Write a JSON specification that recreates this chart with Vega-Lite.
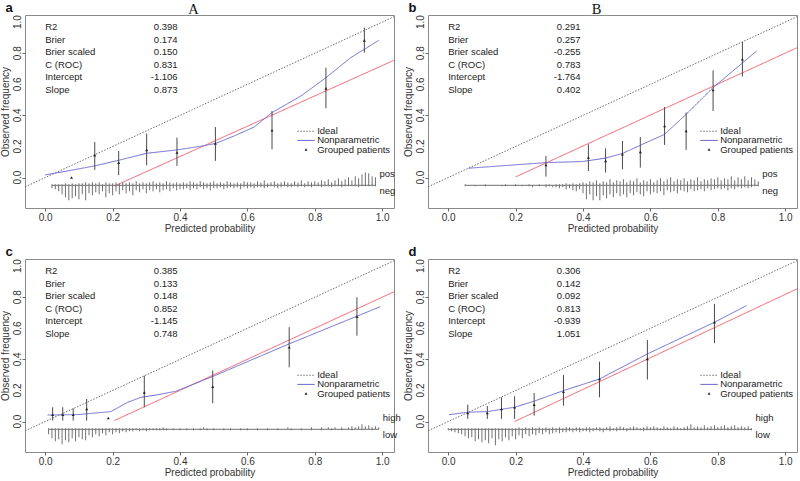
{
"$schema":"https://vega.github.io/schema/vega-lite/v6.json",
"padding":{"left":0,"top":0,"right":0,"bottom":0},
"background":"white",
"data":{"values":[
{"p":"a","k":"P","big":"A","v":["0.398","0.174","0.150","0.831","-1.106","0.873"]},
{"p":"b","k":"P","big":"B","v":["0.291","0.257","-0.255","0.783","-1.764","0.402"]},
{"p":"c","k":"P","big":"","v":["0.385","0.133","0.148","0.852","-1.145","0.748"]},
{"p":"d","k":"P","big":"","v":["0.306","0.142","0.092","0.813","-0.939","1.051"]},
{"p":"a","k":"T","t":0},{"p":"a","k":"T","t":0.2},{"p":"a","k":"T","t":0.4},{"p":"a","k":"T","t":0.6},{"p":"a","k":"T","t":0.8},{"p":"a","k":"T","t":1},
{"p":"b","k":"T","t":0},{"p":"b","k":"T","t":0.2},{"p":"b","k":"T","t":0.4},{"p":"b","k":"T","t":0.6},{"p":"b","k":"T","t":0.8},{"p":"b","k":"T","t":1},
{"p":"c","k":"T","t":0},{"p":"c","k":"T","t":0.2},{"p":"c","k":"T","t":0.4},{"p":"c","k":"T","t":0.6},{"p":"c","k":"T","t":0.8},{"p":"c","k":"T","t":1},
{"p":"d","k":"T","t":0},{"p":"d","k":"T","t":0.2},{"p":"d","k":"T","t":0.4},{"p":"d","k":"T","t":0.6},{"p":"d","k":"T","t":0.8},{"p":"d","k":"T","t":1},
{"p":"a","k":"L","s":"i","x":-0.1,"y":-0.1},{"p":"a","k":"L","s":"i","x":1.1,"y":1.1},
{"p":"b","k":"L","s":"i","x":-0.1,"y":-0.1},{"p":"b","k":"L","s":"i","x":1.1,"y":1.1},
{"p":"c","k":"L","s":"i","x":-0.1,"y":-0.1},{"p":"c","k":"L","s":"i","x":1.1,"y":1.1},
{"p":"d","k":"L","s":"i","x":-0.1,"y":-0.1},{"p":"d","k":"L","s":"i","x":1.1,"y":1.1},
{"p":"a","k":"L","s":"c","x":0.205,"y":-0.055},{"p":"a","k":"L","s":"c","x":1.1,"y":0.818},
{"p":"b","k":"L","s":"c","x":0.2,"y":0.004},{"p":"b","k":"L","s":"c","x":1.1,"y":0.9},
{"p":"c","k":"L","s":"c","x":0.205,"y":0.006},{"p":"c","k":"L","s":"c","x":1.1,"y":0.9},
{"p":"d","k":"L","s":"c","x":0.197,"y":0.0},{"p":"d","k":"L","s":"c","x":1.1,"y":0.92},
{"p":"a","k":"L","s":"n","x":0.0,"y":0.017},{"p":"a","k":"L","s":"n","x":0.078,"y":0.047},{"p":"a","k":"L","s":"n","x":0.147,"y":0.075},{"p":"a","k":"L","s":"n","x":0.218,"y":0.111},{"p":"a","k":"L","s":"n","x":0.301,"y":0.156},{"p":"a","k":"L","s":"n","x":0.391,"y":0.178},{"p":"a","k":"L","s":"n","x":0.46,"y":0.201},{"p":"a","k":"L","s":"n","x":0.505,"y":0.219},{"p":"a","k":"L","s":"n","x":0.561,"y":0.268},{"p":"a","k":"L","s":"n","x":0.62,"y":0.325},{"p":"a","k":"L","s":"n","x":0.673,"y":0.418},{"p":"a","k":"L","s":"n","x":0.759,"y":0.525},{"p":"a","k":"L","s":"n","x":0.833,"y":0.643},{"p":"a","k":"L","s":"n","x":0.907,"y":0.772},{"p":"a","k":"L","s":"n","x":0.99,"y":0.883},
{"p":"b","k":"L","s":"n","x":0.06,"y":0.06},{"p":"b","k":"L","s":"n","x":0.15,"y":0.074},{"p":"b","k":"L","s":"n","x":0.29,"y":0.096},{"p":"b","k":"L","s":"n","x":0.398,"y":0.103},{"p":"b","k":"L","s":"n","x":0.467,"y":0.125},{"p":"b","k":"L","s":"n","x":0.517,"y":0.155},{"p":"b","k":"L","s":"n","x":0.57,"y":0.208},{"p":"b","k":"L","s":"n","x":0.642,"y":0.278},{"p":"b","k":"L","s":"n","x":0.706,"y":0.407},{"p":"b","k":"L","s":"n","x":0.786,"y":0.579},{"p":"b","k":"L","s":"n","x":0.841,"y":0.679},{"p":"b","k":"L","s":"n","x":0.915,"y":0.814},
{"p":"c","k":"L","s":"n","x":0.007,"y":0.042},{"p":"c","k":"L","s":"n","x":0.1,"y":0.045},{"p":"c","k":"L","s":"n","x":0.195,"y":0.064},{"p":"c","k":"L","s":"n","x":0.245,"y":0.124},{"p":"c","k":"L","s":"n","x":0.284,"y":0.156},{"p":"c","k":"L","s":"n","x":0.33,"y":0.171},{"p":"c","k":"L","s":"n","x":0.388,"y":0.195},{"p":"c","k":"L","s":"n","x":0.497,"y":0.29},{"p":"c","k":"L","s":"n","x":0.724,"y":0.5},{"p":"c","k":"L","s":"n","x":0.994,"y":0.739},
{"p":"d","k":"L","s":"n","x":0.002,"y":0.044},{"p":"d","k":"L","s":"n","x":0.058,"y":0.06},{"p":"d","k":"L","s":"n","x":0.116,"y":0.064},{"p":"d","k":"L","s":"n","x":0.197,"y":0.092},{"p":"d","k":"L","s":"n","x":0.255,"y":0.131},{"p":"d","k":"L","s":"n","x":0.342,"y":0.199},{"p":"d","k":"L","s":"n","x":0.449,"y":0.274},{"p":"d","k":"L","s":"n","x":0.591,"y":0.435},{"p":"d","k":"L","s":"n","x":0.79,"y":0.639},{"p":"d","k":"L","s":"n","x":0.885,"y":0.746},
{"p":"a","k":"G","x":0.078,"y":0.0,"lo":0.0,"hi":0.0},{"p":"a","k":"G","x":0.147,"y":0.143,"lo":0.049,"hi":0.229},{"p":"a","k":"G","x":0.218,"y":0.096,"lo":0.015,"hi":0.171},{"p":"a","k":"G","x":0.301,"y":0.178,"lo":0.079,"hi":0.283},{"p":"a","k":"G","x":0.391,"y":0.161,"lo":0.075,"hi":0.257},{"p":"a","k":"G","x":0.505,"y":0.219,"lo":0.107,"hi":0.325},{"p":"a","k":"G","x":0.673,"y":0.304,"lo":0.182,"hi":0.428},{"p":"a","k":"G","x":0.833,"y":0.574,"lo":0.446,"hi":0.707},{"p":"a","k":"G","x":0.947,"y":0.883,"lo":0.804,"hi":0.965},
{"p":"b","k":"G","x":0.29,"y":0.081,"lo":0.006,"hi":0.139},{"p":"b","k":"G","x":0.416,"y":0.129,"lo":0.042,"hi":0.214},{"p":"b","k":"G","x":0.467,"y":0.107,"lo":0.032,"hi":0.188},{"p":"b","k":"G","x":0.517,"y":0.15,"lo":0.053,"hi":0.235},{"p":"b","k":"G","x":0.57,"y":0.165,"lo":0.064,"hi":0.261},{"p":"b","k":"G","x":0.642,"y":0.332,"lo":0.21,"hi":0.454},{"p":"b","k":"G","x":0.706,"y":0.3,"lo":0.178,"hi":0.418},{"p":"b","k":"G","x":0.786,"y":0.563,"lo":0.428,"hi":0.69},{"p":"b","k":"G","x":0.873,"y":0.761,"lo":0.65,"hi":0.872},
{"p":"c","k":"G","x":0.022,"y":0.044,"lo":0.006,"hi":0.092},{"p":"c","k":"G","x":0.052,"y":0.044,"lo":0.006,"hi":0.092},{"p":"c","k":"G","x":0.083,"y":0.044,"lo":0.006,"hi":0.085},{"p":"c","k":"G","x":0.123,"y":0.081,"lo":0.006,"hi":0.145},{"p":"c","k":"G","x":0.187,"y":0.023,"lo":0.023,"hi":0.023},{"p":"c","k":"G","x":0.294,"y":0.188,"lo":0.092,"hi":0.295},{"p":"c","k":"G","x":0.497,"y":0.225,"lo":0.118,"hi":0.328},{"p":"c","k":"G","x":0.724,"y":0.478,"lo":0.349,"hi":0.607},{"p":"c","k":"G","x":0.925,"y":0.675,"lo":0.553,"hi":0.8},
{"p":"d","k":"G","x":0.058,"y":0.055,"lo":0.017,"hi":0.109},{"p":"d","k":"G","x":0.116,"y":0.055,"lo":0.017,"hi":0.1},{"p":"d","k":"G","x":0.158,"y":0.081,"lo":0.017,"hi":0.156},{"p":"d","k":"G","x":0.197,"y":0.092,"lo":0.017,"hi":0.163},{"p":"d","k":"G","x":0.255,"y":0.109,"lo":0.038,"hi":0.184},{"p":"d","k":"G","x":0.342,"y":0.192,"lo":0.102,"hi":0.3},{"p":"d","k":"G","x":0.449,"y":0.274,"lo":0.156,"hi":0.385},{"p":"d","k":"G","x":0.591,"y":0.403,"lo":0.27,"hi":0.525},{"p":"d","k":"G","x":0.79,"y":0.639,"lo":0.504,"hi":0.757},
{"p":"a","k":"R","x":0.02,"u":1,"d":-3},{"p":"a","k":"R","x":0.03,"u":1,"d":-4},{"p":"a","k":"R","x":0.04,"u":1,"d":-6},{"p":"a","k":"R","x":0.05,"u":1,"d":-9},{"p":"a","k":"R","x":0.06,"u":2,"d":-12},{"p":"a","k":"R","x":0.07,"u":1,"d":-15},{"p":"a","k":"R","x":0.08,"u":2,"d":-13},{"p":"a","k":"R","x":0.09,"u":1,"d":-11},{"p":"a","k":"R","x":0.1,"u":2,"d":-14},{"p":"a","k":"R","x":0.11,"u":2,"d":-9},{"p":"a","k":"R","x":0.12,"u":3,"d":-15},{"p":"a","k":"R","x":0.13,"u":2,"d":-8},{"p":"a","k":"R","x":0.14,"u":3,"d":-10},{"p":"a","k":"R","x":0.15,"u":2,"d":-7},{"p":"a","k":"R","x":0.16,"u":3,"d":-9},{"p":"a","k":"R","x":0.17,"u":1,"d":-6},{"p":"a","k":"R","x":0.18,"u":3,"d":-12},{"p":"a","k":"R","x":0.19,"u":2,"d":-8},{"p":"a","k":"R","x":0.2,"u":2,"d":-10},{"p":"a","k":"R","x":0.21,"u":3,"d":-6},
{"p":"a","k":"R","x":0.22,"u":2,"d":-9},{"p":"a","k":"R","x":0.23,"u":3,"d":-5},{"p":"a","k":"R","x":0.24,"u":2,"d":-8},{"p":"a","k":"R","x":0.25,"u":3,"d":-6},{"p":"a","k":"R","x":0.26,"u":2,"d":-10},{"p":"a","k":"R","x":0.27,"u":4,"d":-5},{"p":"a","k":"R","x":0.28,"u":2,"d":-7},{"p":"a","k":"R","x":0.29,"u":3,"d":-4},{"p":"a","k":"R","x":0.3,"u":2,"d":-8},{"p":"a","k":"R","x":0.31,"u":3,"d":-5},{"p":"a","k":"R","x":0.32,"u":4,"d":-6},{"p":"a","k":"R","x":0.33,"u":2,"d":-4},{"p":"a","k":"R","x":0.34,"u":3,"d":-7},{"p":"a","k":"R","x":0.35,"u":2,"d":-5},{"p":"a","k":"R","x":0.36,"u":4,"d":-4},{"p":"a","k":"R","x":0.37,"u":3,"d":-6},{"p":"a","k":"R","x":0.38,"u":2,"d":-3},{"p":"a","k":"R","x":0.39,"u":3,"d":-5},{"p":"a","k":"R","x":0.4,"u":2,"d":-4},
{"p":"a","k":"R","x":0.41,"u":3,"d":-4},{"p":"a","k":"R","x":0.42,"u":2,"d":-3},{"p":"a","k":"R","x":0.43,"u":4,"d":-5},{"p":"a","k":"R","x":0.44,"u":3,"d":-3},{"p":"a","k":"R","x":0.45,"u":2,"d":-4},{"p":"a","k":"R","x":0.46,"u":4,"d":-2},{"p":"a","k":"R","x":0.47,"u":3,"d":-4},{"p":"a","k":"R","x":0.48,"u":2,"d":-3},{"p":"a","k":"R","x":0.49,"u":3,"d":-5},{"p":"a","k":"R","x":0.5,"u":4,"d":-3},{"p":"a","k":"R","x":0.51,"u":2,"d":-3},{"p":"a","k":"R","x":0.52,"u":3,"d":-2},{"p":"a","k":"R","x":0.53,"u":2,"d":-4},{"p":"a","k":"R","x":0.54,"u":4,"d":-3},{"p":"a","k":"R","x":0.55,"u":3,"d":-2},{"p":"a","k":"R","x":0.56,"u":2,"d":-3},{"p":"a","k":"R","x":0.57,"u":3,"d":-2},{"p":"a","k":"R","x":0.58,"u":2,"d":-4},{"p":"a","k":"R","x":0.59,"u":4,"d":-2},{"p":"a","k":"R","x":0.6,"u":3,"d":-3},
{"p":"a","k":"R","x":0.61,"u":3,"d":-2},{"p":"a","k":"R","x":0.62,"u":2,"d":-3},{"p":"a","k":"R","x":0.63,"u":4,"d":-2},{"p":"a","k":"R","x":0.64,"u":3,"d":-2},{"p":"a","k":"R","x":0.65,"u":5,"d":-3},{"p":"a","k":"R","x":0.66,"u":2,"d":-2},{"p":"a","k":"R","x":0.67,"u":3,"d":-1},{"p":"a","k":"R","x":0.68,"u":4,"d":-2},{"p":"a","k":"R","x":0.69,"u":2,"d":-3},{"p":"a","k":"R","x":0.7,"u":3,"d":-2},{"p":"a","k":"R","x":0.71,"u":4,"d":-1},{"p":"a","k":"R","x":0.72,"u":3,"d":-2},{"p":"a","k":"R","x":0.73,"u":2,"d":-2},{"p":"a","k":"R","x":0.74,"u":4,"d":-1},{"p":"a","k":"R","x":0.75,"u":3,"d":-2},{"p":"a","k":"R","x":0.76,"u":5,"d":-1},{"p":"a","k":"R","x":0.77,"u":2,"d":-2},{"p":"a","k":"R","x":0.78,"u":4,"d":-1},{"p":"a","k":"R","x":0.79,"u":3,"d":-2},{"p":"a","k":"R","x":0.8,"u":4,"d":-1},
{"p":"a","k":"R","x":0.81,"u":3,"d":-1},{"p":"a","k":"R","x":0.82,"u":5,"d":-2},{"p":"a","k":"R","x":0.83,"u":4,"d":-1},{"p":"a","k":"R","x":0.84,"u":6,"d":-1},{"p":"a","k":"R","x":0.85,"u":3,"d":-2},{"p":"a","k":"R","x":0.86,"u":5,"d":-1},{"p":"a","k":"R","x":0.87,"u":7,"d":-1},{"p":"a","k":"R","x":0.88,"u":4,"d":-2},{"p":"a","k":"R","x":0.89,"u":6,"d":-1},{"p":"a","k":"R","x":0.9,"u":8,"d":-1},{"p":"a","k":"R","x":0.91,"u":5,"d":-1},{"p":"a","k":"R","x":0.92,"u":9,"d":-1},{"p":"a","k":"R","x":0.93,"u":7,"d":-2},{"p":"a","k":"R","x":0.94,"u":11,"d":-1},{"p":"a","k":"R","x":0.95,"u":13,"d":-1},{"p":"a","k":"R","x":0.96,"u":12,"d":-1},{"p":"a","k":"R","x":0.97,"u":9,"d":-1},{"p":"a","k":"R","x":0.98,"u":8,"d":-1},
{"p":"b","k":"R","x":0.05,"u":1,"d":-1},{"p":"b","k":"R","x":0.08,"u":0,"d":-1},{"p":"b","k":"R","x":0.11,"u":1,"d":-1},{"p":"b","k":"R","x":0.16,"u":0,"d":-1},{"p":"b","k":"R","x":0.17,"u":1,"d":-1},{"p":"b","k":"R","x":0.2,"u":1,"d":-1},{"p":"b","k":"R","x":0.22,"u":0,"d":-1},{"p":"b","k":"R","x":0.24,"u":1,"d":-1},{"p":"b","k":"R","x":0.25,"u":0,"d":-2},{"p":"b","k":"R","x":0.27,"u":1,"d":-1},{"p":"b","k":"R","x":0.29,"u":1,"d":-2},{"p":"b","k":"R","x":0.3,"u":1,"d":-1},{"p":"b","k":"R","x":0.31,"u":0,"d":-2},{"p":"b","k":"R","x":0.32,"u":1,"d":-2},{"p":"b","k":"R","x":0.33,"u":1,"d":-3},{"p":"b","k":"R","x":0.34,"u":1,"d":-2},{"p":"b","k":"R","x":0.35,"u":2,"d":-4},{"p":"b","k":"R","x":0.36,"u":1,"d":-3},{"p":"b","k":"R","x":0.37,"u":2,"d":-5},{"p":"b","k":"R","x":0.38,"u":1,"d":-6},{"p":"b","k":"R","x":0.39,"u":2,"d":-4},{"p":"b","k":"R","x":0.4,"u":3,"d":-8},
{"p":"b","k":"R","x":0.41,"u":2,"d":-14},{"p":"b","k":"R","x":0.42,"u":4,"d":-9},{"p":"b","k":"R","x":0.43,"u":3,"d":-15},{"p":"b","k":"R","x":0.44,"u":5,"d":-11},{"p":"b","k":"R","x":0.45,"u":2,"d":-15},{"p":"b","k":"R","x":0.46,"u":4,"d":-10},{"p":"b","k":"R","x":0.47,"u":3,"d":-13},{"p":"b","k":"R","x":0.48,"u":6,"d":-9},{"p":"b","k":"R","x":0.49,"u":3,"d":-12},{"p":"b","k":"R","x":0.5,"u":5,"d":-8},{"p":"b","k":"R","x":0.51,"u":4,"d":-11},{"p":"b","k":"R","x":0.52,"u":6,"d":-9},{"p":"b","k":"R","x":0.53,"u":3,"d":-12},{"p":"b","k":"R","x":0.54,"u":5,"d":-8},{"p":"b","k":"R","x":0.55,"u":4,"d":-10},{"p":"b","k":"R","x":0.56,"u":7,"d":-7},{"p":"b","k":"R","x":0.57,"u":3,"d":-9},{"p":"b","k":"R","x":0.58,"u":5,"d":-11},{"p":"b","k":"R","x":0.59,"u":4,"d":-6},{"p":"b","k":"R","x":0.6,"u":6,"d":-9},
{"p":"b","k":"R","x":0.61,"u":3,"d":-7},{"p":"b","k":"R","x":0.62,"u":5,"d":-8},{"p":"b","k":"R","x":0.63,"u":7,"d":-6},{"p":"b","k":"R","x":0.64,"u":4,"d":-10},{"p":"b","k":"R","x":0.65,"u":6,"d":-5},{"p":"b","k":"R","x":0.66,"u":8,"d":-7},{"p":"b","k":"R","x":0.67,"u":4,"d":-6},{"p":"b","k":"R","x":0.68,"u":6,"d":-8},{"p":"b","k":"R","x":0.69,"u":5,"d":-5},{"p":"b","k":"R","x":0.7,"u":7,"d":-6},{"p":"b","k":"R","x":0.71,"u":4,"d":-7},{"p":"b","k":"R","x":0.72,"u":6,"d":-4},{"p":"b","k":"R","x":0.73,"u":5,"d":-6},{"p":"b","k":"R","x":0.74,"u":8,"d":-5},{"p":"b","k":"R","x":0.75,"u":4,"d":-4},{"p":"b","k":"R","x":0.76,"u":6,"d":-6},{"p":"b","k":"R","x":0.77,"u":5,"d":-3},{"p":"b","k":"R","x":0.78,"u":7,"d":-5},{"p":"b","k":"R","x":0.79,"u":6,"d":-4},{"p":"b","k":"R","x":0.8,"u":8,"d":-3},
{"p":"b","k":"R","x":0.81,"u":5,"d":-4},{"p":"b","k":"R","x":0.82,"u":7,"d":-3},{"p":"b","k":"R","x":0.83,"u":6,"d":-5},{"p":"b","k":"R","x":0.84,"u":9,"d":-3},{"p":"b","k":"R","x":0.85,"u":5,"d":-4},{"p":"b","k":"R","x":0.86,"u":8,"d":-2},{"p":"b","k":"R","x":0.87,"u":6,"d":-3},{"p":"b","k":"R","x":0.88,"u":9,"d":-2},{"p":"b","k":"R","x":0.89,"u":5,"d":-3},{"p":"b","k":"R","x":0.9,"u":8,"d":-2},{"p":"b","k":"R","x":0.91,"u":6,"d":-1},{"p":"b","k":"R","x":0.92,"u":4,"d":-1},
{"p":"c","k":"R","x":0.01,"u":1,"d":-5},{"p":"c","k":"R","x":0.02,"u":1,"d":-9},{"p":"c","k":"R","x":0.03,"u":1,"d":-12},{"p":"c","k":"R","x":0.04,"u":1,"d":-10},{"p":"c","k":"R","x":0.05,"u":1,"d":-15},{"p":"c","k":"R","x":0.06,"u":1,"d":-11},{"p":"c","k":"R","x":0.07,"u":1,"d":-13},{"p":"c","k":"R","x":0.08,"u":1,"d":-9},{"p":"c","k":"R","x":0.09,"u":1,"d":-12},{"p":"c","k":"R","x":0.1,"u":1,"d":-8},{"p":"c","k":"R","x":0.11,"u":1,"d":-10},{"p":"c","k":"R","x":0.12,"u":1,"d":-11},{"p":"c","k":"R","x":0.13,"u":1,"d":-6},{"p":"c","k":"R","x":0.14,"u":1,"d":-8},{"p":"c","k":"R","x":0.15,"u":1,"d":-5},{"p":"c","k":"R","x":0.16,"u":1,"d":-7},{"p":"c","k":"R","x":0.17,"u":1,"d":-4},{"p":"c","k":"R","x":0.18,"u":1,"d":-6},{"p":"c","k":"R","x":0.19,"u":1,"d":-3},{"p":"c","k":"R","x":0.2,"u":1,"d":-5},
{"p":"c","k":"R","x":0.21,"u":1,"d":-3},{"p":"c","k":"R","x":0.22,"u":1,"d":-4},{"p":"c","k":"R","x":0.23,"u":1,"d":-2},{"p":"c","k":"R","x":0.24,"u":1,"d":-3},{"p":"c","k":"R","x":0.25,"u":1,"d":-2},{"p":"c","k":"R","x":0.26,"u":1,"d":-2},{"p":"c","k":"R","x":0.27,"u":1,"d":-1},{"p":"c","k":"R","x":0.28,"u":1,"d":-2},{"p":"c","k":"R","x":0.29,"u":1,"d":-1},{"p":"c","k":"R","x":0.3,"u":1,"d":-2},{"p":"c","k":"R","x":0.31,"u":1,"d":-1},{"p":"c","k":"R","x":0.32,"u":1,"d":-1},{"p":"c","k":"R","x":0.33,"u":1,"d":-1},{"p":"c","k":"R","x":0.34,"u":1,"d":-1},{"p":"c","k":"R","x":0.35,"u":2,"d":-1},
{"p":"c","k":"R","x":0.36,"u":1,"d":-1},{"p":"c","k":"R","x":0.38,"u":1,"d":-1},{"p":"c","k":"R","x":0.4,"u":1,"d":-1},{"p":"c","k":"R","x":0.42,"u":1,"d":-1},{"p":"c","k":"R","x":0.44,"u":1,"d":-1},{"p":"c","k":"R","x":0.46,"u":1,"d":-1},{"p":"c","k":"R","x":0.47,"u":2,"d":0},{"p":"c","k":"R","x":0.48,"u":1,"d":-1},{"p":"c","k":"R","x":0.5,"u":1,"d":-1},{"p":"c","k":"R","x":0.53,"u":1,"d":-1},{"p":"c","k":"R","x":0.55,"u":1,"d":-1},{"p":"c","k":"R","x":0.58,"u":1,"d":-1},{"p":"c","k":"R","x":0.6,"u":1,"d":-1},{"p":"c","k":"R","x":0.63,"u":1,"d":-1},{"p":"c","k":"R","x":0.66,"u":1,"d":-1},{"p":"c","k":"R","x":0.69,"u":1,"d":-1},{"p":"c","k":"R","x":0.72,"u":2,"d":0},{"p":"c","k":"R","x":0.73,"u":1,"d":-1},{"p":"c","k":"R","x":0.76,"u":1,"d":-1},{"p":"c","k":"R","x":0.79,"u":2,"d":-1},{"p":"c","k":"R","x":0.82,"u":2,"d":-1},{"p":"c","k":"R","x":0.84,"u":2,"d":0},{"p":"c","k":"R","x":0.85,"u":1,"d":-1},{"p":"c","k":"R","x":0.86,"u":2,"d":0},{"p":"c","k":"R","x":0.88,"u":2,"d":-1},{"p":"c","k":"R","x":0.9,"u":2,"d":0},{"p":"c","k":"R","x":0.91,"u":3,"d":-1},{"p":"c","k":"R","x":0.92,"u":2,"d":0},{"p":"c","k":"R","x":0.93,"u":3,"d":0},{"p":"c","k":"R","x":0.94,"u":5,"d":-1},{"p":"c","k":"R","x":0.95,"u":3,"d":0},{"p":"c","k":"R","x":0.96,"u":4,"d":0},{"p":"c","k":"R","x":0.97,"u":2,"d":-1},{"p":"c","k":"R","x":0.98,"u":3,"d":0},{"p":"c","k":"R","x":0.99,"u":2,"d":0},
{"p":"d","k":"R","x":0.0,"u":1,"d":-1},{"p":"d","k":"R","x":0.01,"u":1,"d":-2},{"p":"d","k":"R","x":0.02,"u":1,"d":-3},{"p":"d","k":"R","x":0.03,"u":1,"d":-4},{"p":"d","k":"R","x":0.04,"u":1,"d":-5},{"p":"d","k":"R","x":0.05,"u":1,"d":-7},{"p":"d","k":"R","x":0.06,"u":1,"d":-9},{"p":"d","k":"R","x":0.07,"u":1,"d":-8},{"p":"d","k":"R","x":0.08,"u":1,"d":-12},{"p":"d","k":"R","x":0.09,"u":1,"d":-10},{"p":"d","k":"R","x":0.1,"u":1,"d":-13},{"p":"d","k":"R","x":0.11,"u":1,"d":-11},{"p":"d","k":"R","x":0.12,"u":1,"d":-14},{"p":"d","k":"R","x":0.13,"u":1,"d":-9},{"p":"d","k":"R","x":0.14,"u":1,"d":-16},{"p":"d","k":"R","x":0.15,"u":1,"d":-10},{"p":"d","k":"R","x":0.16,"u":1,"d":-12},{"p":"d","k":"R","x":0.17,"u":1,"d":-8},{"p":"d","k":"R","x":0.18,"u":1,"d":-11},{"p":"d","k":"R","x":0.19,"u":1,"d":-7},{"p":"d","k":"R","x":0.2,"u":1,"d":-10},
{"p":"d","k":"R","x":0.21,"u":2,"d":-6},{"p":"d","k":"R","x":0.22,"u":1,"d":-9},{"p":"d","k":"R","x":0.23,"u":2,"d":-5},{"p":"d","k":"R","x":0.24,"u":1,"d":-7},{"p":"d","k":"R","x":0.25,"u":2,"d":-5},{"p":"d","k":"R","x":0.26,"u":1,"d":-6},{"p":"d","k":"R","x":0.27,"u":2,"d":-4},{"p":"d","k":"R","x":0.28,"u":1,"d":-5},{"p":"d","k":"R","x":0.29,"u":2,"d":-3},{"p":"d","k":"R","x":0.3,"u":1,"d":-5},{"p":"d","k":"R","x":0.31,"u":2,"d":-4},{"p":"d","k":"R","x":0.32,"u":1,"d":-3},{"p":"d","k":"R","x":0.33,"u":2,"d":-4},{"p":"d","k":"R","x":0.34,"u":1,"d":-3},{"p":"d","k":"R","x":0.35,"u":2,"d":-3},{"p":"d","k":"R","x":0.36,"u":2,"d":-2},{"p":"d","k":"R","x":0.37,"u":1,"d":-3},{"p":"d","k":"R","x":0.38,"u":2,"d":-2},{"p":"d","k":"R","x":0.39,"u":2,"d":-3},{"p":"d","k":"R","x":0.4,"u":1,"d":-2},
{"p":"d","k":"R","x":0.41,"u":2,"d":-2},{"p":"d","k":"R","x":0.42,"u":2,"d":-3},{"p":"d","k":"R","x":0.43,"u":1,"d":-2},{"p":"d","k":"R","x":0.44,"u":2,"d":-1},{"p":"d","k":"R","x":0.45,"u":2,"d":-2},{"p":"d","k":"R","x":0.46,"u":1,"d":-3},{"p":"d","k":"R","x":0.47,"u":2,"d":-1},{"p":"d","k":"R","x":0.48,"u":3,"d":-2},{"p":"d","k":"R","x":0.49,"u":1,"d":-1},{"p":"d","k":"R","x":0.5,"u":2,"d":-2},{"p":"d","k":"R","x":0.51,"u":3,"d":-1},{"p":"d","k":"R","x":0.52,"u":2,"d":-1},{"p":"d","k":"R","x":0.53,"u":1,"d":-2},{"p":"d","k":"R","x":0.54,"u":2,"d":-1},{"p":"d","k":"R","x":0.55,"u":3,"d":-1},{"p":"d","k":"R","x":0.56,"u":2,"d":-1},{"p":"d","k":"R","x":0.57,"u":1,"d":-1},{"p":"d","k":"R","x":0.58,"u":2,"d":-2},{"p":"d","k":"R","x":0.59,"u":3,"d":-1},{"p":"d","k":"R","x":0.6,"u":2,"d":-1},
{"p":"d","k":"R","x":0.61,"u":3,"d":-1},{"p":"d","k":"R","x":0.62,"u":2,"d":-1},{"p":"d","k":"R","x":0.63,"u":1,"d":-1},{"p":"d","k":"R","x":0.64,"u":3,"d":-1},{"p":"d","k":"R","x":0.65,"u":2,"d":-1},{"p":"d","k":"R","x":0.66,"u":1,"d":-1},{"p":"d","k":"R","x":0.67,"u":3,"d":-1},{"p":"d","k":"R","x":0.68,"u":2,"d":-1},{"p":"d","k":"R","x":0.69,"u":1,"d":-1},{"p":"d","k":"R","x":0.7,"u":2,"d":-1},{"p":"d","k":"R","x":0.71,"u":3,"d":-1},{"p":"d","k":"R","x":0.72,"u":5,"d":-1},{"p":"d","k":"R","x":0.73,"u":2,"d":-1},{"p":"d","k":"R","x":0.74,"u":3,"d":-1},{"p":"d","k":"R","x":0.75,"u":2,"d":-1},{"p":"d","k":"R","x":0.76,"u":4,"d":-1},{"p":"d","k":"R","x":0.77,"u":2,"d":-1},{"p":"d","k":"R","x":0.78,"u":3,"d":-1},{"p":"d","k":"R","x":0.79,"u":4,"d":-1},{"p":"d","k":"R","x":0.8,"u":2,"d":-1},{"p":"d","k":"R","x":0.81,"u":3,"d":-1},{"p":"d","k":"R","x":0.82,"u":4,"d":-1},{"p":"d","k":"R","x":0.83,"u":2,"d":-1},{"p":"d","k":"R","x":0.84,"u":3,"d":-1},{"p":"d","k":"R","x":0.85,"u":4,"d":-1},{"p":"d","k":"R","x":0.86,"u":2,"d":-1},{"p":"d","k":"R","x":0.87,"u":3,"d":-1},{"p":"d","k":"R","x":0.88,"u":2,"d":-1},{"p":"d","k":"R","x":0.89,"u":3,"d":-1},{"p":"d","k":"R","x":0.9,"u":1,"d":-1}
]},
"facet":{"field":"p","type":"nominal","header":{"title":null,"labelExpr":"''","labelPadding":0,"labelFontSize":1}},
"columns":2,
"spacing":{"row":51,"column":34},
"bounds":"flush",
"resolve":{"axis":{"x":"independent","y":"independent"}},
"spec":{
"width":369,"height":193,
"resolve":{"scale":{"y":"independent"}},
"layer":[
{"layer":[
{"transform":[{"filter":"datum.k=='L'"}],
 "mark":{"type":"line","clip":true,"strokeWidth":1},
 "encoding":{
  "x":{"field":"x","type":"quantitative","title":"Predicted probability","scale":{"domain":[-0.06,1.035],"nice":false,"zero":false},"axis":{"values":[0,0.2,0.4,0.6,0.8,1],"format":".1f","labelOverlap":false}},
  "y":{"field":"y","type":"quantitative","title":"Observed frequency","scale":{"domain":[-0.196,1.046],"nice":false,"zero":false},"axis":{"values":[0,0.2,0.4,0.6,0.8,1],"labels":false,"ticks":true,"titlePadding":11}},
  "color":{"field":"s","type":"nominal","scale":{"domain":["i","n","c"],"range":["#6e6e6e","#6a6ad2","#f25f6c"]},"legend":null},
  "strokeDash":{"field":"s","type":"nominal","scale":{"domain":["i","n","c"],"range":[[1.5,1.5],[1,0],[1,0]]},"legend":null}}},
{"transform":[{"filter":"datum.k=='T'"}],
 "mark":{"type":"text","angle":270,"align":"center","baseline":"alphabetic","dy":-4,"fontSize":10,"color":"#333"},
 "encoding":{"x":{"datum":-0.06,"scale":{"domain":[-0.06,1.035],"nice":false,"zero":false}},"y":{"field":"t","type":"quantitative","title":"Observed frequency","scale":{"domain":[-0.196,1.046],"nice":false,"zero":false}},"text":{"field":"t","type":"quantitative","format":".1f"}}},
{"transform":[{"filter":"datum.k=='G'"}],
 "mark":{"type":"rule","color":"#4a4a4a","strokeWidth":1},
 "encoding":{"x":{"field":"x","type":"quantitative","title":"Predicted probability"},"y":{"field":"lo","type":"quantitative","title":"Observed frequency"},"y2":{"field":"hi"}}},
{"transform":[{"filter":"datum.k=='G'"}],
 "mark":{"type":"point","shape":"triangle-up","filled":true,"size":9,"color":"#222","opacity":1},
 "encoding":{"x":{"field":"x","type":"quantitative","title":"Predicted probability"},"y":{"field":"y","type":"quantitative","title":"Observed frequency"}}},
{"transform":[{"filter":"datum.k=='P'"}],
 "mark":{"type":"text","align":"left","baseline":"middle","lineHeight":12.55,"text":["R2","Brier","Brier scaled","C (ROC)","Intercept","Slope"]},
 "encoding":{"x":{"datum":0,"scale":{"domain":[-0.06,1.035],"nice":false,"zero":false}},"y":{"datum":0.967,"scale":{"domain":[-0.196,1.046],"nice":false,"zero":false}}}},
{"transform":[{"filter":"datum.k=='P'"}],
 "mark":{"type":"text","align":"right","baseline":"middle","lineHeight":12.55},
 "encoding":{"x":{"datum":0.393},"y":{"datum":0.967},"text":{"field":"v"}}},
{"transform":[{"filter":"datum.k=='P'"}],
 "mark":{"type":"text","align":"left","baseline":"middle","lineHeight":9.2,"text":["Ideal","Nonparametric","Grouped patients"]},
 "encoding":{"x":{"datum":0.807},"y":{"datum":0.298}}},
{"transform":[{"filter":"datum.k=='P'"}],
 "mark":{"type":"rule","color":"#6e6e6e","strokeDash":[1.5,1.5],"strokeWidth":1},
 "encoding":{"x":{"datum":0.748},"x2":{"datum":0.8},"y":{"datum":0.298}}},
{"transform":[{"filter":"datum.k=='P'"}],
 "mark":{"type":"rule","color":"#6a6ad2","strokeWidth":1},
 "encoding":{"x":{"datum":0.748},"x2":{"datum":0.8},"y":{"datum":0.239}}},
{"transform":[{"filter":"datum.k=='P'"}],
 "mark":{"type":"point","shape":"triangle-up","filled":true,"size":9,"color":"#222","opacity":1},
 "encoding":{"x":{"datum":0.774},"y":{"datum":0.18}}},
{"transform":[{"filter":"datum.k=='P'"}],
 "mark":{"type":"text","align":"center","baseline":"alphabetic","font":"Liberation Serif","fontSize":14.5,"dy":-1,"color":"#111"},
 "encoding":{"x":{"datum":0.44},"y":{"datum":1.046},"text":{"field":"big"}}},
{"transform":[{"filter":"datum.k=='P'"}],
 "mark":{"type":"text","align":"left","baseline":"alphabetic","fontSize":13,"fontWeight":"bold","color":"#111"},
 "encoding":{"x":{"datum":-0.118},"y":{"datum":1.068},"text":{"field":"p"}}}
]},
{"layer":[
{"transform":[{"filter":"datum.k=='R'"}],
 "mark":{"type":"rule","color":"#707070","strokeWidth":1},
 "encoding":{"x":{"field":"x","type":"quantitative","title":"Predicted probability"},"y":{"field":"u","type":"quantitative","scale":{"domain":[-22.7,170.3],"nice":false,"zero":false},"axis":null},"y2":{"field":"d"}}},
{"transform":[{"filter":"datum.k=='R'"}],
 "mark":{"type":"line","color":"#707070","strokeWidth":1},
 "encoding":{"x":{"field":"x","type":"quantitative","title":"Predicted probability"},"y":{"datum":0}}},
{"transform":[{"filter":"datum.k=='R'"},{"aggregate":[{"op":"max","field":"x","as":"mx"}],"groupby":["p"]}],
 "mark":{"type":"text","align":"left","baseline":"middle","dx":4,"fontSize":9.5},
 "encoding":{"x":{"field":"mx","type":"quantitative","title":"Predicted probability"},"y":{"datum":11},"text":{"condition":{"test":"datum.p=='a'||datum.p=='b'","value":"pos"},"value":"high"}}},
{"transform":[{"filter":"datum.k=='R'"},{"aggregate":[{"op":"max","field":"x","as":"mx"}],"groupby":["p"]}],
 "mark":{"type":"text","align":"left","baseline":"middle","dx":4,"fontSize":9.5},
 "encoding":{"x":{"field":"mx","type":"quantitative","title":"Predicted probability"},"y":{"datum":-6},"text":{"condition":{"test":"datum.p=='a'||datum.p=='b'","value":"neg"},"value":"low"}}}
]}
]},
"config":{
 "view":{"stroke":"#8a8a8a","strokeWidth":1},
 "font":"Liberation Sans",
 "axis":{"grid":false,"domain":false,"tickSize":3,"tickColor":"#666","labelFont":"Liberation Sans","labelFontSize":10,"labelColor":"#333","titleFont":"Liberation Sans","titleFontSize":10,"titleFontWeight":"normal","titleColor":"#333","labelPadding":1,"titlePadding":1,"labelFlush":false,"labelOverlap":false},
 "text":{"font":"Liberation Sans","fontSize":9.5,"color":"#222"}
}
}
